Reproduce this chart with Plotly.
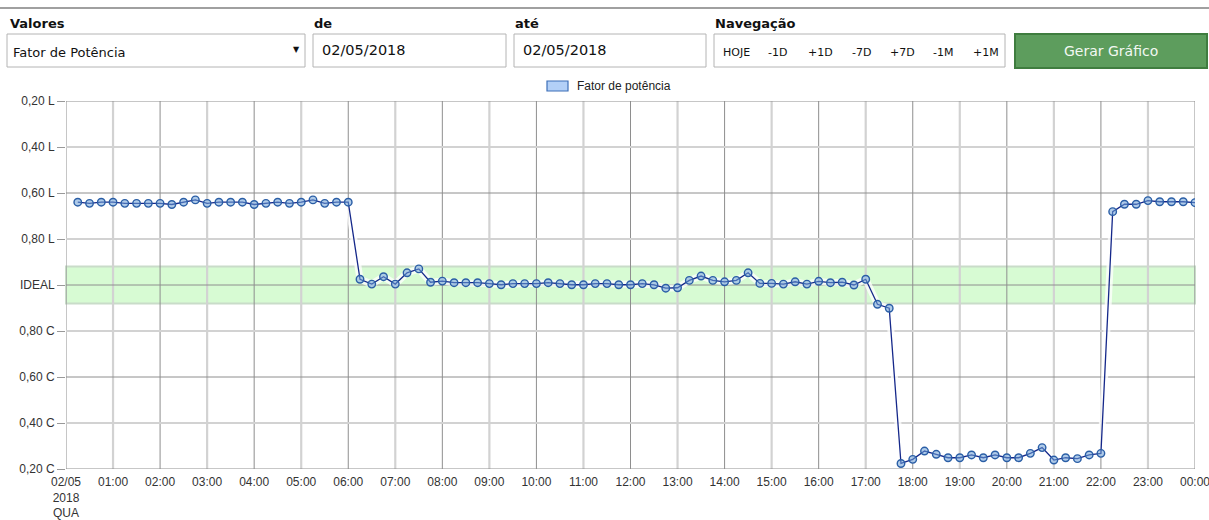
import pandas as pd
import plotly.graph_objects as go

# ---------------- data ----------------
# power factor readings every 15 min (00:15 .. 24:00); positive = inductive (L), negative = capacitive (C)
pf_00_06 = [0.64, 0.645, 0.64, 0.64, 0.645, 0.645, 0.645, 0.645, 0.65, 0.64, 0.63, 0.645,
            0.64, 0.64, 0.64, 0.65, 0.645, 0.64, 0.645, 0.64, 0.63, 0.645, 0.64, 0.64]
pf_06_17 = [0.975, 0.996, 0.964, 0.996, 0.947, 0.930, 0.988, 0.983, 0.990, 0.990, 0.990, 0.994,
            0.999, 0.994, 0.994, 0.994, 0.990, 0.994, 0.999, 0.999, 0.994, 0.994, 0.999, 0.999,
            0.994, 0.999, -0.986, -0.988, 0.980, 0.961, 0.980, 0.986, 0.980, 0.947, 0.993, 0.993,
            0.996, 0.986, 0.996, 0.984, 0.990, 0.988, 1.000, 0.975, -0.916, -0.899]
pf_17_22 = [-0.224, -0.242, -0.278, -0.264, -0.249, -0.249, -0.261, -0.249, -0.261, -0.249,
            -0.249, -0.268, -0.293, -0.239, -0.249, -0.245, -0.261, -0.268]
pf_22_24 = [0.681, 0.649, 0.649, 0.633, 0.638, 0.638, 0.638, 0.642]
power_factor = pf_00_06 + pf_06_17 + pf_17_22 + pf_22_24
times = pd.date_range("2018-05-02 00:15", periods=len(power_factor), freq="15min")

y_tick_values = [-0.8, -0.6, -0.4, -0.2, 0.0, 0.2, 0.4, 0.6, 0.8]
y_tick_labels = ["0,20 C", "0,40 C", "0,60 C", "0,80 C", "IDEAL", "0,80 L", "0,60 L", "0,40 L", "0,20 L"]
hours = list(range(25))
x_tick_labels = ["02/05<br>2018<br>QUA"] + [f"{h:02d}:00" for h in range(1, 24)] + ["00:00"]
ideal_band = 0.08  # 0,92 L .. 0,92 C
series_name = "Fator de potência"

# deviation from unity: inductive plotted up, capacitive down
y_vals = [(1 - abs(p)) * (1 if p > 0 else -1) if abs(p) < 1 else 0.0 for p in power_factor]

# ---------------- figure ----------------
W, H = 1209, 520
L, R, T, B = 66, 14, 101, 51
pw, ph = W - L - R, H - T - B

def px(x):
    return (x - L) / pw

def py(y):
    return (H - B - y) / ph

fig = go.Figure()
fig.add_trace(go.Scatter(x=times, y=y_vals, mode="lines", line=dict(color="white", width=7),
                         opacity=0.75, hoverinfo="skip", showlegend=False))
fig.add_trace(go.Scatter(x=times, y=y_vals, mode="lines+markers", name=series_name,
                         line=dict(color="#15288a", width=1.3),
                         marker=dict(size=7.5, color="rgba(110,160,215,0.55)",
                                     line=dict(color="#2a5ea6", width=1.4)),
                         showlegend=False))

shapes = []
# ideal band
shapes.append(dict(type="rect", xref="paper", yref="y", x0=0, x1=1, y0=-ideal_band, y1=ideal_band,
                   fillcolor="#d7fbd3", line=dict(color="#c9dcc9", width=2), layer="between"))
# vertical grid
x0_day = pd.Timestamp("2018-05-02 00:00")
for h in hours:
    t = x0_day + pd.Timedelta(hours=h)
    even = h % 2 == 0
    shapes.append(dict(type="line", xref="x", yref="paper", x0=t, x1=t, y0=0, y1=1,
                       line=dict(color="#8e8e8e" if even else "#d2d2d2", width=1 if even else 2.2),
                       layer="between"))
# horizontal grid
for i, v in enumerate(y_tick_values):
    even = i % 2 == 0
    shapes.append(dict(type="line", xref="paper", yref="y", x0=0, x1=1, y0=v, y1=v,
                       line=dict(color="#8e8e8e" if even else "#d2d2d2", width=1 if even else 2.2),
                       layer="between"))

annotations = []
# top separator
shapes.append(dict(type="line", xref="paper", yref="paper", x0=px(0), x1=px(W), y0=py(8), y1=py(8),
                   line=dict(color="#a0a0a0", width=2)))

def box(x0, y0, x1, y1, fill="white", border="#b4b4b4", width=1):
    shapes.append(dict(type="rect", xref="paper", yref="paper", x0=px(x0), x1=px(x1), y0=py(y1), y1=py(y0),
                       fillcolor=fill, line=dict(color=border, width=width)))

def text(x, y, s, size=13, bold=False, color="#111", anchor="left", family="DejaVu Sans"):
    annotations.append(dict(xref="paper", yref="paper", x=px(x), y=py(y), text=f"<b>{s}</b>" if bold else s,
                            showarrow=False, xanchor=anchor, yanchor="middle",
                            font=dict(size=size, color=color, family=family)))

# form labels
text(8, 24, "Valores", 13, True)
text(312, 24, "de", 13, True)
text(513, 24, "até", 13, True)
text(713, 24, "Navegação", 13, True)
box(7, 34, 305, 67)
text(11, 52, "Fator de Potência", 13)
text(296, 49, "▼", 8, anchor="center")
box(313, 34, 506, 67)
text(320, 50, "02/05/2018", 14.5)
box(514, 34, 706, 67)
text(521, 50, "02/05/2018", 14.5)
box(714, 34, 1005, 67)
for cx, lab in zip([736, 777, 820, 861, 902, 943, 986], ["HOJE", "-1D", "+1D", "-7D", "+7D", "-1M", "+1M"]):
    text(cx, 52, lab, 11, anchor="center")
box(1015, 34, 1207, 68, fill="#5d9d5d", border="#3f7d3f", width=2)
text(1111, 51, "Gerar Gráfico", 14, color="#f2f8f2", anchor="center")

# legend
shapes.append(dict(type="rect", xref="paper", yref="paper", x0=px(547), x1=px(568), y0=py(91), y1=py(81),
                   fillcolor="#b3d0f7", line=dict(color="#3d6fb8", width=1.2)))
text(575, 86, series_name, 12, family="Liberation Sans, Arial", color="#222")

fig.update_layout(
    width=W, height=H, margin=dict(l=L, r=R, t=T, b=B, autoexpand=False),
    paper_bgcolor="white", plot_bgcolor="white",
    shapes=shapes, annotations=annotations, showlegend=False,
    font=dict(family="Liberation Sans, Arial", size=12, color="#333"),
    xaxis=dict(type="date", range=[x0_day, x0_day + pd.Timedelta(hours=24)],
               tickvals=[x0_day + pd.Timedelta(hours=h) for h in hours], ticktext=x_tick_labels,
               showgrid=False, zeroline=False, showline=False, ticks="", automargin=False,
               ticklabelstandoff=4, ticklabeloverflow="allow", tickfont=dict(size=12, color="#333")),
    yaxis=dict(range=[-0.8, 0.8], tickvals=y_tick_values, ticktext=y_tick_labels,
               showgrid=False, zeroline=False, showline=False, ticks="outside", ticklen=8,
               automargin=False, tickcolor="#999", tickfont=dict(size=12, color="#333")),
)

fig.write_html("out.html", config={"displayModeBar": False},
               post_script="document.body.style.margin='0';document.body.style.overflow='hidden';")
